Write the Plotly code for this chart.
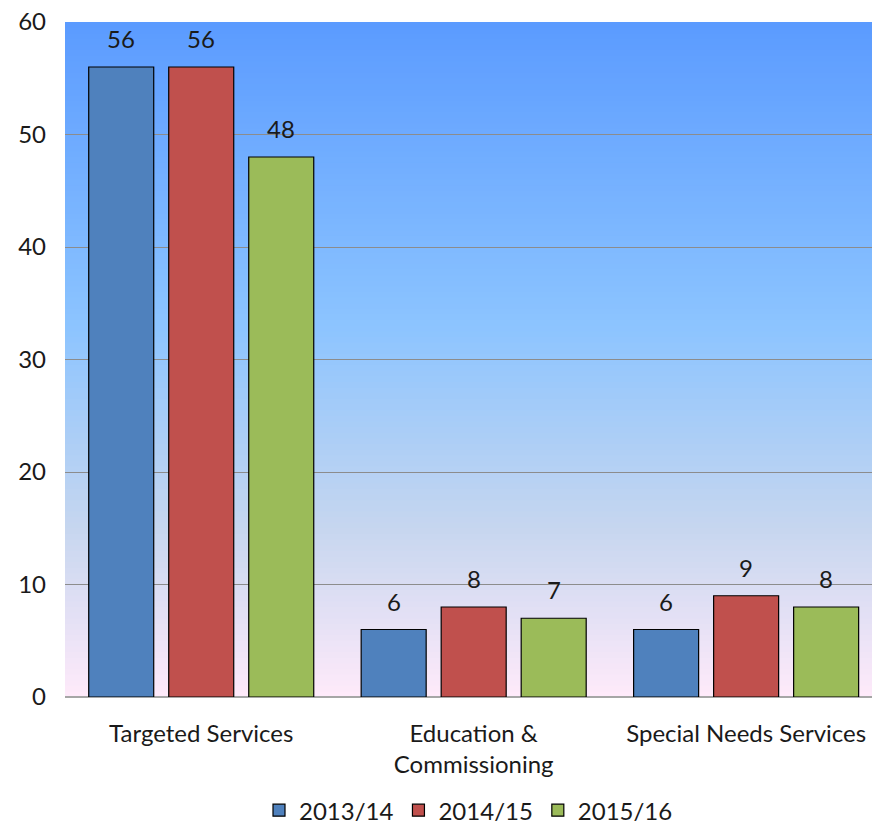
import plotly.graph_objects as go

categories = ["Targeted Services", "Education &<br>Commissioning", "Special Needs Services"]
series_names = ["2013/14", "2014/15", "2015/16"]
values_2013 = [56, 6, 6]
values_2014 = [56, 8, 9]
values_2015 = [48, 7, 8]
y_ticks = [0, 10, 20, 30, 40, 50, 60]

colors = ["#4F81BD", "#C0504D", "#9BBB59"]
FONT = "Lato"
FS = 24

fig = go.Figure()
all_vals = [values_2013, values_2014, values_2015]
for name, vals, col in zip(series_names, all_vals, colors):
    fig.add_trace(go.Bar(
        x=categories, y=vals, name=name,
        marker=dict(color=col, line=dict(color="#000000", width=1.2)),
    ))

# data labels above bars
annotations = []
for si, vals in enumerate(all_vals):
    for ci, v in enumerate(vals):
        annotations.append(dict(x=categories[ci], y=v, xref="x", yref="y", text=str(v),
                                showarrow=False, xshift=(si - 1) * 80, yshift=12, yanchor="bottom",
                                font=dict(family=FONT, size=FS, color="#1a1a1a")))

# background gradient bands (below gridlines)
def lerp(c1, c2, t):
    return tuple(int(round(a + (b - a) * t)) for a, b in zip(c1, c2))

stops = [(0.0, (0x5B, 0x9B, 0xFF)), (0.45, (0x8C, 0xC4, 0xFF)),
         (0.75, (0xC6, 0xD6, 0xEF)), (1.0, (0xFF, 0xEA, 0xFA))]
N = 120
shapes = []
for i in range(N):
    t = (i + 0.5) / N  # 0 top -> 1 bottom
    for j in range(len(stops) - 1):
        if stops[j][0] <= t <= stops[j + 1][0]:
            tt = (t - stops[j][0]) / (stops[j + 1][0] - stops[j][0])
            c = lerp(stops[j][1], stops[j + 1][1], tt)
            break
    y1 = 60 - 60 * i / N
    y0 = max(0, 60 - 60 * (i + 1.6) / N)
    shapes.append(dict(type="rect", xref="paper", yref="y", x0=0, x1=1, y0=y0, y1=y1,
                       fillcolor="rgb(%d,%d,%d)" % c, line=dict(width=0), layer="below"))

fig.update_layout(
    width=872, height=834,
    margin=dict(l=65, r=0, t=22, b=137, autoexpand=False),
    paper_bgcolor="white", plot_bgcolor="rgba(0,0,0,0)",
    barmode="group", bargap=0.119, bargroupgap=0.1875,
    shapes=shapes, annotations=annotations,
    font=dict(family=FONT, size=FS, color="#1a1a1a"),
    showlegend=True,
    legend=dict(orientation="h", x=0.5, xanchor="center", y=-0.135, yanchor="top",
                font=dict(family=FONT, size=FS, color="#1a1a1a"), traceorder="normal",
                itemwidth=30),
)
fig.update_xaxes(range=[-0.5, 2.462], showgrid=False, ticks="", ticklabelstandoff=20,
                 showline=False, tickfont=dict(family=FONT, size=FS))
fig.update_yaxes(range=[0, 60], tickvals=y_ticks, showgrid=True, gridcolor="#8C8C8C", gridwidth=1,
                 zeroline=True, zerolinecolor="#A6A6A6", zerolinewidth=2, ticks="",
                 ticklabelstandoff=18, tickfont=dict(family=FONT, size=FS), showline=False)

fig.write_html("out.html")
